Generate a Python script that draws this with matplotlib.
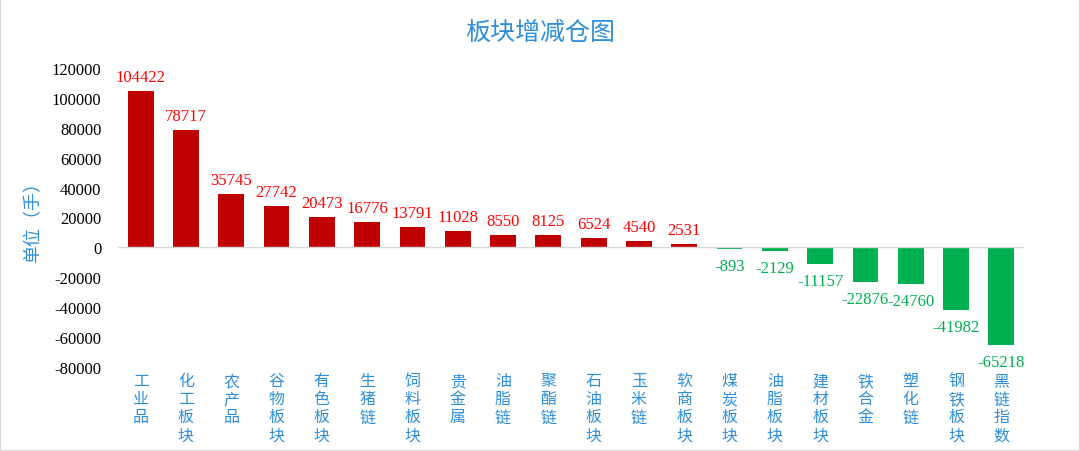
import numpy as np
import matplotlib
matplotlib.use('Agg')
from matplotlib import pyplot as plt
from matplotlib.patches import Rectangle

categories = ['工业品', '化工板块', '农产品', '谷物板块', '有色板块', '生猪链', '饲料板块',
              '贵金属', '油脂链', '聚酯链', '石油板块', '玉米链', '软商板块', '煤炭板块',
              '油脂板块', '建材板块', '铁合金', '塑化链', '钢铁板块', '黑链指数']
values = [104422, 78717, 35745, 27742, 20473, 16776, 13791, 11028, 8550, 8125,
          6524, 4540, 2531, -893, -2129, -11157, -22876, -24760, -41982, -65218]
yticks = [-80000, -60000, -40000, -20000, 0, 20000, 40000, 60000, 80000, 100000, 120000]

cjk = ['Noto Sans CJK SC', 'DejaVu Sans']
num = ['Liberation Serif', 'DejaVu Serif']
blue = '#2F8FD8'

fig = plt.figure(figsize=(10.8, 4.52), dpi=100)
ax = fig.add_axes([118/1080, 84/452, 906/1080, 299/452])

x = np.arange(len(values))
cols = ['#C00000' if v >= 0 else '#00B050' for v in values]
ax.bar(x, values, width=0.57, color=cols)
ax.axhline(0, color='#D9D9D9', lw=1)

# 数值标签
for i, v in enumerate(values):
    if v >= 0:
        ax.text(i, v + 4000, str(v), ha='center', va='bottom', color='#FF0000',
                fontsize=12, family=num)
    else:
        ax.text(i, v - 6000, str(v), ha='center', va='top', color='#00B050',
                fontsize=12, family=num)

ax.set_xlim(-0.5, len(values) - 0.5)
ax.set_ylim(-80000, 120000)
ax.set_yticks(yticks)
ax.set_yticklabels([str(t) for t in yticks], family=num, fontsize=12)
ax.set_xticks([])
ax.tick_params(axis='y', length=0, pad=12)
for s in ax.spines.values():
    s.set_visible(False)

# 竖排类别
for i, c in enumerate(categories):
    ax.text(i, -83500, '\n'.join(c), ha='center', va='top', color=blue,
            fontsize=11.5, family=cjk, linespacing=1.08)

fig.text(33/1080, 1 - 218/452, '单位（手）', rotation=90, ha='center', va='center',
         color=blue, fontsize=13, family=cjk)
fig.text(0.5, 1 - 33/452, '板块增减仓图', ha='center', va='center', color=blue,
         fontsize=18, family=cjk)
fig.patches.append(Rectangle((0, 0), 1, 1, transform=fig.transFigure, fill=False,
                             edgecolor='#D9D9D9', lw=1.5))

fig.savefig('out.png', dpi=100)
